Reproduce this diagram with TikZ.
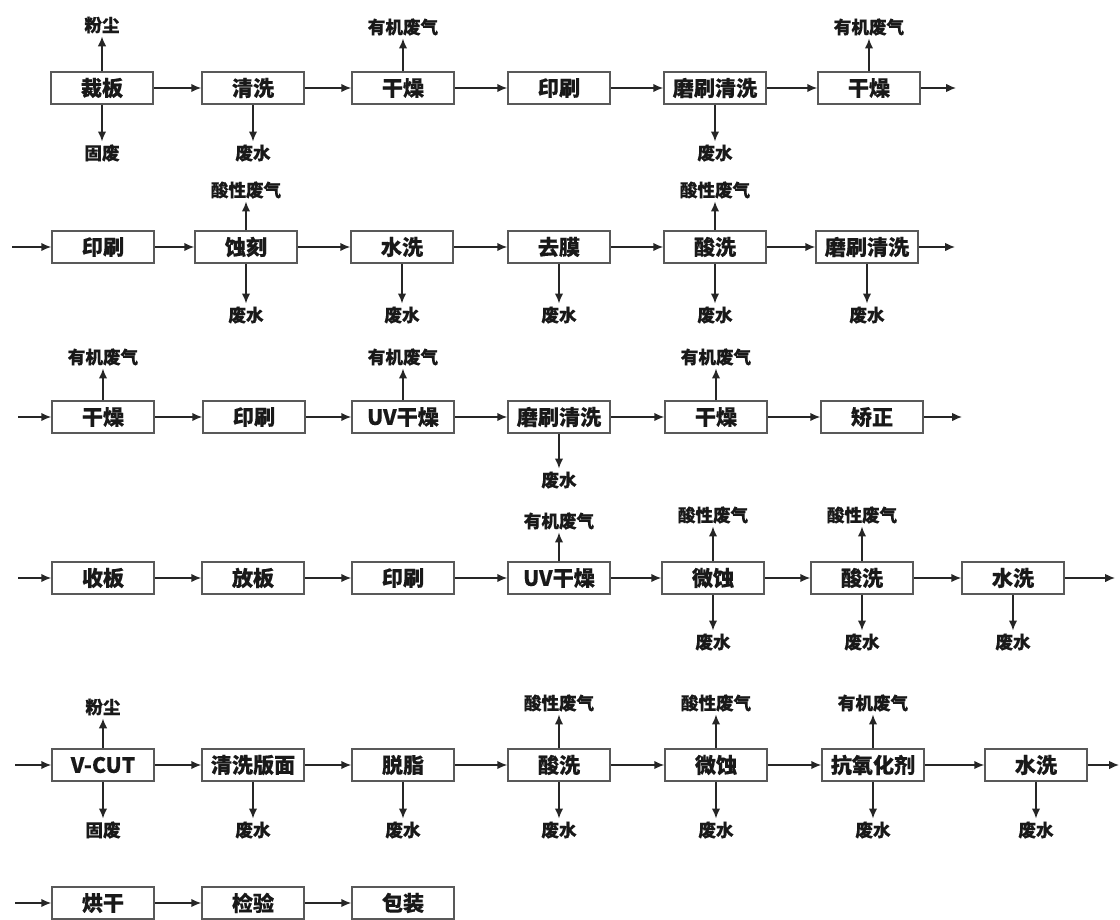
\documentclass[tikz,border=0pt]{standalone}
\usepackage{fontspec}
\setmainfont[FakeBold=0.3]{Noto Sans CJK SC}
\usetikzlibrary{arrows.meta}

\begin{document}
\begin{tikzpicture}[x=0.025cm,y=-0.025cm,
    every node/.style={font=\fontsize{12.5}{15}\selectfont\bfseries, text=black!90},
    box/.style={draw=black!65, line width=1.1pt, minimum width=2.55cm,
                minimum height=0.8cm, inner sep=1pt,
                font=\fontsize{15}{18}\selectfont\bfseries},
    lbl/.style={inner sep=2pt},
    ar/.style={-{Latex[length=7pt,width=6pt]}, line width=1pt, black!85}]
  \useasboundingbox (0,0) rectangle (1120,920);

  % row 1
  \node[box] (a1) at (102,88) {裁板};
  \node[box] (a2) at (253,88) {清洗};
  \node[box] (a3) at (403,88) {干燥};
  \node[box] (a4) at (559,88) {印刷};
  \node[box] (a5) at (715,88) {磨刷清洗};
  \node[box] (a6) at (869,88) {干燥};
  \coordinate (aout) at (956,88);
  \node[lbl] (a1u) at (102,25) {粉尘};
  \node[lbl] (a1d) at (102,153) {固废};
  \node[lbl] (a2d) at (253,153) {废水};
  \node[lbl] (a3u) at (403,27) {有机废气};
  \node[lbl] (a5d) at (715,153) {废水};
  \node[lbl] (a6u) at (869,27) {有机废气};
  \draw[ar] (a1)--(a2); \draw[ar] (a2)--(a3); \draw[ar] (a3)--(a4);
  \draw[ar] (a4)--(a5); \draw[ar] (a5)--(a6); \draw[ar] (a6)--(aout);
  \draw[ar] (a1)--(a1u); \draw[ar] (a1)--(a1d); \draw[ar] (a2)--(a2d);
  \draw[ar] (a3)--(a3u); \draw[ar] (a5)--(a5d); \draw[ar] (a6)--(a6u);

  % row 2
  \coordinate (bin) at (12,247);
  \node[box] (b1) at (103,247) {印刷};
  \node[box] (b2) at (246,247) {蚀刻};
  \node[box] (b3) at (402,247) {水洗};
  \node[box] (b4) at (559,247) {去膜};
  \node[box] (b5) at (715,247) {酸洗};
  \node[box] (b6) at (867,247) {磨刷清洗};
  \coordinate (bout) at (955,247);
  \node[lbl] (b2u) at (246,190) {酸性废气};
  \node[lbl] (b2d) at (246,315) {废水};
  \node[lbl] (b3d) at (402,315) {废水};
  \node[lbl] (b4d) at (559,315) {废水};
  \node[lbl] (b5u) at (715,190) {酸性废气};
  \node[lbl] (b5d) at (715,315) {废水};
  \node[lbl] (b6d) at (867,315) {废水};
  \draw[ar] (bin)--(b1); \draw[ar] (b1)--(b2); \draw[ar] (b2)--(b3);
  \draw[ar] (b3)--(b4); \draw[ar] (b4)--(b5); \draw[ar] (b5)--(b6);
  \draw[ar] (b6)--(bout);
  \draw[ar] (b2)--(b2u); \draw[ar] (b2)--(b2d); \draw[ar] (b3)--(b3d);
  \draw[ar] (b4)--(b4d); \draw[ar] (b5)--(b5u); \draw[ar] (b5)--(b5d);
  \draw[ar] (b6)--(b6d);

  % row 3
  \coordinate (cin) at (18,417);
  \node[box] (c1) at (103,417) {干燥};
  \node[box] (c2) at (254,417) {印刷};
  \node[box] (c3) at (403,417) {UV干燥};
  \node[box] (c4) at (559,417) {磨刷清洗};
  \node[box] (c5) at (716,417) {干燥};
  \node[box] (c6) at (872,417) {矫正};
  \coordinate (cout) at (962,417);
  \node[lbl] (c1u) at (103,357) {有机废气};
  \node[lbl] (c3u) at (403,357) {有机废气};
  \node[lbl] (c4d) at (559,480) {废水};
  \node[lbl] (c5u) at (716,357) {有机废气};
  \draw[ar] (cin)--(c1); \draw[ar] (c1)--(c2); \draw[ar] (c2)--(c3);
  \draw[ar] (c3)--(c4); \draw[ar] (c4)--(c5); \draw[ar] (c5)--(c6);
  \draw[ar] (c6)--(cout);
  \draw[ar] (c1)--(c1u); \draw[ar] (c3)--(c3u); \draw[ar] (c4)--(c4d);
  \draw[ar] (c5)--(c5u);

  % row 4
  \coordinate (din) at (18,578);
  \node[box] (d1) at (103,578) {收板};
  \node[box] (d2) at (253,578) {放板};
  \node[box] (d3) at (403,578) {印刷};
  \node[box] (d4) at (559,578) {UV干燥};
  \node[box] (d5) at (713,578) {微蚀};
  \node[box] (d6) at (862,578) {酸洗};
  \node[box] (d7) at (1013,578) {水洗};
  \coordinate (dout) at (1115,578);
  \node[lbl] (d4u) at (559,521) {有机废气};
  \node[lbl] (d5u) at (713,515) {酸性废气};
  \node[lbl] (d6u) at (862,515) {酸性废气};
  \node[lbl] (d5d) at (713,642) {废水};
  \node[lbl] (d6d) at (862,642) {废水};
  \node[lbl] (d7d) at (1013,642) {废水};
  \draw[ar] (din)--(d1); \draw[ar] (d1)--(d2); \draw[ar] (d2)--(d3);
  \draw[ar] (d3)--(d4); \draw[ar] (d4)--(d5); \draw[ar] (d5)--(d6);
  \draw[ar] (d6)--(d7); \draw[ar] (d7)--(dout);
  \draw[ar] (d4)--(d4u); \draw[ar] (d5)--(d5u); \draw[ar] (d6)--(d6u);
  \draw[ar] (d5)--(d5d); \draw[ar] (d6)--(d6d); \draw[ar] (d7)--(d7d);

  % row 5
  \coordinate (ein) at (15,765);
  \node[box] (e1) at (103,765) {V-CUT};
  \node[box] (e2) at (253,765) {清洗版面};
  \node[box] (e3) at (403,765) {脱脂};
  \node[box] (e4) at (559,765) {酸洗};
  \node[box] (e5) at (716,765) {微蚀};
  \node[box] (e6) at (873,765) {抗氧化剂};
  \node[box] (e7) at (1036,765) {水洗};
  \coordinate (eout) at (1119,765);
  \node[lbl] (e1u) at (103,707) {粉尘};
  \node[lbl] (e1d) at (103,830) {固废};
  \node[lbl] (e2d) at (253,830) {废水};
  \node[lbl] (e3d) at (403,830) {废水};
  \node[lbl] (e4u) at (559,703) {酸性废气};
  \node[lbl] (e4d) at (559,830) {废水};
  \node[lbl] (e5u) at (716,703) {酸性废气};
  \node[lbl] (e5d) at (716,830) {废水};
  \node[lbl] (e6u) at (873,703) {有机废气};
  \node[lbl] (e6d) at (873,830) {废水};
  \node[lbl] (e7d) at (1036,830) {废水};
  \draw[ar] (ein)--(e1); \draw[ar] (e1)--(e2); \draw[ar] (e2)--(e3);
  \draw[ar] (e3)--(e4); \draw[ar] (e4)--(e5); \draw[ar] (e5)--(e6);
  \draw[ar] (e6)--(e7); \draw[ar] (e7)--(eout);
  \draw[ar] (e1)--(e1u); \draw[ar] (e1)--(e1d); \draw[ar] (e2)--(e2d);
  \draw[ar] (e3)--(e3d); \draw[ar] (e4)--(e4u); \draw[ar] (e4)--(e4d);
  \draw[ar] (e5)--(e5u); \draw[ar] (e5)--(e5d); \draw[ar] (e6)--(e6u);
  \draw[ar] (e6)--(e6d); \draw[ar] (e7)--(e7d);

  % row 6
  \coordinate (fin) at (15,903);
  \node[box] (f1) at (103,903) {烘干};
  \node[box] (f2) at (253,903) {检验};
  \node[box] (f3) at (403,903) {包装};
  \draw[ar] (fin)--(f1); \draw[ar] (f1)--(f2); \draw[ar] (f2)--(f3);
\end{tikzpicture}
\end{document}
